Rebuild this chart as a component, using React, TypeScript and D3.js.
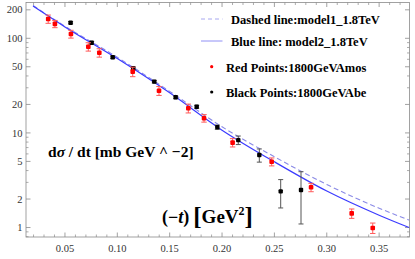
import React from "react";
import * as d3 from "d3";

// Amos 1800 GeV (red)
const amosT = [0.034, 0.0404, 0.0557, 0.0723, 0.0828, 0.1147, 0.1398, 0.1678, 0.1828, 0.2101, 0.2474, 0.285, 0.3238, 0.3439];
const amosV = [160, 142, 111, 81.5, 70.4, 44.4, 27.9, 18.2, 14.3, 7.9, 4.96, 2.66, 1.41, 0.99];
const amosErr = [16, 12.5, 10.5, 8.3, 7.2, 5.1, 3.0, 1.95, 1.3, 0.8, 0.48, 0.27, 0.16, 0.125];

// Abe 1800 GeV (black)
const abeT = [0.0554, 0.0755, 0.0956, 0.1152, 0.1353, 0.1557, 0.1758, 0.1955, 0.2155, 0.2356, 0.256, 0.2754];
const abeV = [146, 89.8, 63, 48.2, 34.8, 23.8, 18.9, 11.5, 8.4, 5.84, 2.41, 2.49];
const abeErr = [4, 3, 2, 1.5, 1.1, 0.8, 0.7, 0.6, 0.87, 0.93, 0.8, 1.4];

// model curves
const modelT = [0.0195, 0.05, 0.1, 0.15, 0.2, 0.25, 0.3, 0.35, 0.3786];
const model1V = [222, 134, 63, 27.5, 11.6, 5.6, 2.85, 1.6, 1.2]; // dashed
const model2V = [219, 132, 61, 26.5, 10.7, 4.95, 2.43, 1.35, 1.0]; // solid

const xMajor = [0.05, 0.1, 0.15, 0.2, 0.25, 0.3, 0.35];
const xMinor = [0.02, 0.03, 0.04, 0.06, 0.07, 0.08, 0.09, 0.11, 0.12, 0.13, 0.14, 0.16, 0.17, 0.18, 0.19, 0.21, 0.22, 0.23, 0.24, 0.26, 0.27, 0.28, 0.29, 0.31, 0.32, 0.33, 0.34, 0.36, 0.37];
const yMajor = [1, 2, 5, 10, 20, 50, 100, 200];
const yMinor = [0.8, 0.9, 3, 4, 6, 7, 8, 9, 30, 40, 60, 70, 80, 90];

const legendItems = [
  "Dashed line:model1_1.8TeV",
  "Blue line: model2_1.8TeV",
  "Red Points:1800GeVAmos",
  "Black Points:1800GeVAbe",
];

const W = 415;
const H = 259;
const L = 26, R = 409.5, T = 2.5, B = 237;
const FONT = "'Liberation Serif', 'Times New Roman', serif";

export default function App() {
  const x = d3.scaleLinear().domain([0.0128, 0.379]).range([L, R]);
  const y = d3.scaleLog().domain([0.794, 239]).range([B, T]);
  const mk = (vals: number[]) =>
    d3
      .line<number>()
      .x((_, i) => x(modelT[i]))
      .y((v) => y(v))
      .curve(d3.curveMonotoneX)(vals) || "";
  const line1 = mk(model1V);
  const line2 = mk(model2V);

  const frame = "#8a8a8a";
  const lab = "#333";
  return (
    <svg
      width={W}
      height={H}
      style={{ position: "absolute", left: 0, top: 0, background: "#fff" }}
      fontFamily={FONT}
    >
      <defs>
        <clipPath id="clip">
          <rect x={L} y={T} width={R - L} height={B - T} />
        </clipPath>
      </defs>
      <rect x={L} y={T} width={R - L} height={B - T} fill="none" stroke={frame} strokeWidth={0.8} />
      {xMajor.map((t) => (
        <g key={"xm" + t}>
          <line x1={x(t)} x2={x(t)} y1={B} y2={B - 4.5} stroke={frame} strokeWidth={0.8} />
          <line x1={x(t)} x2={x(t)} y1={T} y2={T + 4.5} stroke={frame} strokeWidth={0.8} />
          <text x={x(t)} y={252} textAnchor="middle" fontSize={10.5} fill={lab}>
            {t.toFixed(2)}
          </text>
        </g>
      ))}
      {xMinor.map((t) => (
        <g key={"xn" + t}>
          <line x1={x(t)} x2={x(t)} y1={B} y2={B - 2.5} stroke={frame} strokeWidth={0.7} />
          <line x1={x(t)} x2={x(t)} y1={T} y2={T + 2.5} stroke={frame} strokeWidth={0.7} />
        </g>
      ))}
      {yMajor.map((v) => (
        <g key={"ym" + v}>
          <line x1={L} x2={L + 4.5} y1={y(v)} y2={y(v)} stroke={frame} strokeWidth={0.8} />
          <line x1={R} x2={R - 4.5} y1={y(v)} y2={y(v)} stroke={frame} strokeWidth={0.8} />
          <text x={22.5} y={y(v) + 3.6} textAnchor="end" fontSize={10.5} fill={lab}>
            {v}
          </text>
        </g>
      ))}
      {yMinor.map((v) => (
        <g key={"yn" + v}>
          <line x1={L} x2={L + 2.5} y1={y(v)} y2={y(v)} stroke={frame} strokeWidth={0.7} />
          <line x1={R} x2={R - 2.5} y1={y(v)} y2={y(v)} stroke={frame} strokeWidth={0.7} />
        </g>
      ))}

      <g clipPath="url(#clip)">
        <path d={line1} fill="none" stroke="#8a8ae6" strokeWidth={1.1} strokeDasharray="5,3" />
        <path d={line2} fill="none" stroke="#3c3cff" strokeWidth={1.2} />
        {abeT.map((t, i) => {
          const cx = x(t);
          const y1 = y(abeV[i] + abeErr[i]);
          const y2 = y(abeV[i] - abeErr[i]);
          return (
            <g key={"abe" + i}>
              <line x1={cx} x2={cx} y1={y1} y2={y2} stroke="#555" strokeWidth={1} />
              <line x1={cx - 2.5} x2={cx + 2.5} y1={y1} y2={y1} stroke="#555" strokeWidth={1} />
              <line x1={cx - 2.5} x2={cx + 2.5} y1={y2} y2={y2} stroke="#555" strokeWidth={1} />
              <rect x={cx - 2.2} y={y(abeV[i]) - 2.2} width={4.4} height={4.4} rx={1} fill="#000" />
            </g>
          );
        })}
        {amosT.map((t, i) => {
          const cx = x(t);
          const y1 = y(amosV[i] + amosErr[i]);
          const y2 = y(amosV[i] - amosErr[i]);
          return (
            <g key={"amos" + i}>
              <line x1={cx} x2={cx} y1={y1} y2={y2} stroke="#ff5a5a" strokeWidth={1} />
              <line x1={cx - 2.7} x2={cx + 2.7} y1={y1} y2={y1} stroke="#ff5a5a" strokeWidth={1} />
              <line x1={cx - 2.7} x2={cx + 2.7} y1={y2} y2={y2} stroke="#ff5a5a" strokeWidth={1} />
              <rect x={cx - 2.3} y={y(amosV[i]) - 2.3} width={4.6} height={4.6} rx={1} fill="#ff0000" />
            </g>
          );
        })}
      </g>

      {/* legend */}
      <line x1={201} x2={222.5} y1={19} y2={19} stroke="#a8a8f0" strokeWidth={1} strokeDasharray="4,3" />
      <line x1={201} x2={222.5} y1={41} y2={41} stroke="#9090f5" strokeWidth={1} />
      <circle cx={211.7} cy={66.7} r={1.6} fill="#ff0000" />
      <circle cx={211.7} cy={92} r={1.6} fill="#000" />
      <text x={231} y={23.5} fontSize={12.5} fontWeight="bold" fill="#000">{legendItems[0]}</text>
      <text x={231} y={46} fontSize={12.5} fontWeight="bold" fill="#000">{legendItems[1]}</text>
      <text x={226} y={71.5} fontSize={12.5} fontWeight="bold" fill="#000">{legendItems[2]}</text>
      <text x={226} y={96.5} fontSize={12.5} fontWeight="bold" fill="#000">{legendItems[3]}</text>

      {/* annotations */}
      <text x={48} y={157} fontSize={15.5} fontWeight="bold" fill="#000">
        d<tspan fontStyle="italic">σ</tspan> / dt [mb GeV ^ −2]
      </text>
      <text x={162} y={222.5} fontSize={18} fontWeight="bold" fill="#000">
        (−<tspan fontStyle="italic">t</tspan>)
        <tspan fontSize={25} dx={4} dy={2}>[</tspan>
        <tspan fontSize={19} dy={-2}>GeV</tspan>
        <tspan fontSize={12} dy={-8}>2</tspan>
        <tspan fontSize={25} dy={10}>]</tspan>
      </text>
    </svg>
  );
}
